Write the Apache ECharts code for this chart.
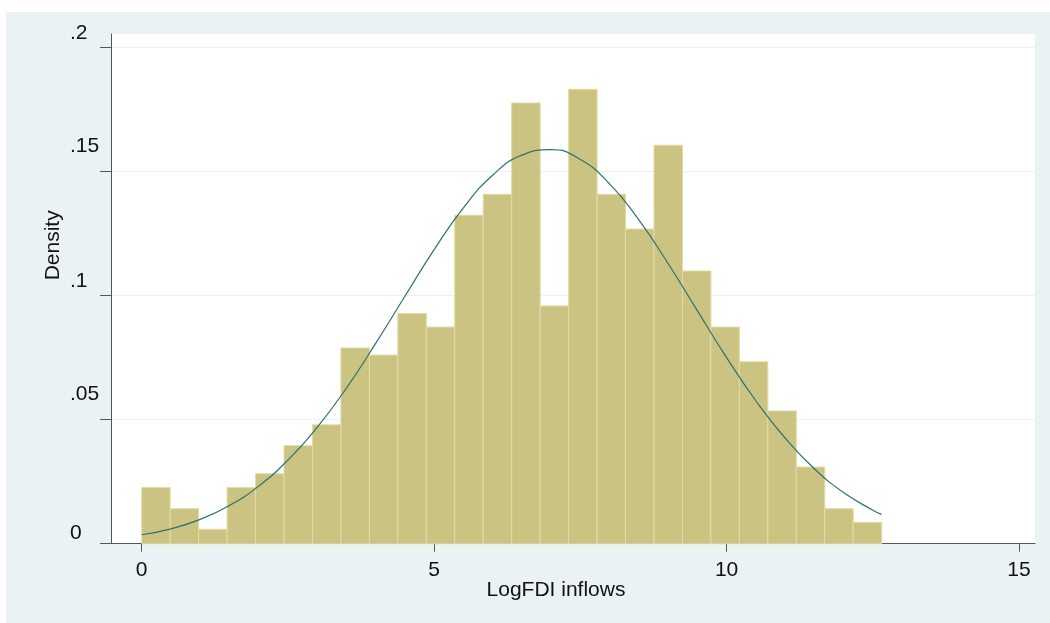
<!DOCTYPE html>
<html>
<head>
<meta charset="utf-8">
<script src="https://cdn.jsdelivr.net/npm/echarts@6/dist/echarts.min.js"></script>
<style>
  html, body { margin: 0; padding: 0; background: #ffffff; }
  #wrap { position: relative; width: 1050px; height: 623px; overflow: hidden; }
  #bg { position: absolute; left: 6px; top: 12px; width: 1044px; height: 611px; background: #EAF2F3; }
  #chart { position: absolute; left: 0; top: 0; width: 1050px; height: 623px; }
</style>
</head>
<body>
<div id="wrap"><div id="bg"></div><div id="chart"></div></div>
<script>
// Histogram of LogFDI inflows (density scale)
const binStart = 0;
const binWidth = 0.4866;
const binDensity = [
  0.0226, 0.0141, 0.0058, 0.0226, 0.0282, 0.0395, 0.0479, 0.0789, 0.0760,
  0.0928, 0.0873, 0.1324, 0.1408, 0.1776, 0.0958, 0.1831, 0.1408, 0.1268,
  0.1606, 0.1099, 0.0873, 0.0733, 0.0535, 0.0309, 0.0141, 0.0086
];
// Normal density overlay
const curveX = [0, 0.5, 1, 1.5, 2, 2.5, 3, 3.5, 4, 4.5, 5, 5.5, 6, 6.5, 7, 7.5,
  8, 8.5, 9, 9.5, 10, 10.5, 11, 11.5, 12, 12.5, 12.65];
const curveY = [0.0036, 0.0060, 0.0098, 0.0154, 0.0232, 0.0337, 0.0469, 0.0627,
  0.0807, 0.0997, 0.1185, 0.1353, 0.1485, 0.1566, 0.1588, 0.1548, 0.1450,
  0.1305, 0.1129, 0.0939, 0.0750, 0.0576, 0.0426, 0.0302, 0.0206, 0.0135, 0.0118];
const xTicks = [0, 5, 10, 15];
const yTicks = [0, 0.05, 0.1, 0.15, 0.2];
const yTickLabels = ['0', '.05', '.1', '.15', '.2'];
const xTitle = 'LogFDI inflows';
const yTitle = 'Density';

const FONT = 'Liberation Sans, Arial, Helvetica, sans-serif';
const histData = binDensity.map((h, i) => [binStart + i * binWidth, binStart + (i + 1) * binWidth, h]);
const curveData = curveX.map((x, i) => [x, curveY[i]]);
const yLabelStyleKey = ['o0', 'o1', 'o2', 'o1', 'o2'];

const chart = echarts.init(document.getElementById('chart'), null, { renderer: 'canvas' });
chart.setOption({
  animation: false,
  backgroundColor: 'transparent',
  grid: {
    left: 111, top: 34, right: 15, bottom: 79.3,
    show: true, backgroundColor: '#ffffff', borderWidth: 0
  },
  xAxis: {
    type: 'value',
    min: -0.525, max: 15.273,
    name: xTitle,
    nameLocation: 'middle',
    nameGap: 36,
    nameMoveOverlap: false,
    nameTextStyle: { fontFamily: FONT, fontSize: 21, color: '#111', padding: [0, 34, 0, 0] },
    axisLine: { show: true, onZero: false, lineStyle: { color: '#555', width: 1 } },
    axisTick: { show: true, length: 8, customValues: xTicks, lineStyle: { color: '#555', width: 1 } },
    axisLabel: {
      customValues: xTicks, margin: 16,
      fontFamily: FONT, fontSize: 21, color: '#111',
      formatter: v => String(v)
    },
    splitLine: { show: false }
  },
  yAxis: {
    type: 'value',
    min: 0, max: 0.2054,
    name: yTitle,
    nameLocation: 'middle',
    nameGap: 47,
    nameMoveOverlap: false,
    nameTextStyle: { fontFamily: FONT, fontSize: 21, color: '#111', padding: [0, 0, 0, 87] },
    axisLine: { show: true, onZero: false, lineStyle: { color: '#555', width: 1 } },
    axisTick: { show: true, length: 11, customValues: yTicks, lineStyle: { color: '#555', width: 1 } },
    axisLabel: {
      customValues: yTicks, margin: 41, align: 'left',
      fontFamily: FONT, fontSize: 21, color: '#111',
      formatter: v => {
        const i = yTicks.findIndex(t => Math.abs(t - v) < 1e-9);
        if (i < 0) return '';
        return '{' + yLabelStyleKey[i] + '|' + yTickLabels[i] + '}';
      },
      rich: {
        o0: { fontFamily: FONT, fontSize: 21, color: '#111', padding: [0, 0, 20, 0] },
        o1: { fontFamily: FONT, fontSize: 21, color: '#111', padding: [0, 0, 50, 0] },
        o2: { fontFamily: FONT, fontSize: 21, color: '#111', padding: [0, 0, 28, 0] }
      }
    },
    splitLine: { show: true, lineStyle: { color: '#EAF2F3', width: 1 } }
  },
  series: [
    {
      type: 'custom',
      data: histData,
      encode: { x: [0, 1], y: 2 },
      renderItem: function (params, api) {
        const p0 = api.coord([api.value(0), api.value(2)]);
        const p1 = api.coord([api.value(1), 0]);
        return {
          type: 'rect',
          shape: { x: p0[0], y: p0[1], width: p1[0] - p0[0], height: p1[1] - p0[1] },
          style: { fill: '#CBC381', stroke: '#E2DBA6', lineWidth: 1 }
        };
      },
      z: 2
    },
    {
      type: 'line',
      data: curveData,
      smooth: true,
      showSymbol: false,
      symbol: 'none',
      lineStyle: { color: '#2D736E', width: 1.2 },
      z: 3
    }
  ]
});
</script>
</body>
</html>
